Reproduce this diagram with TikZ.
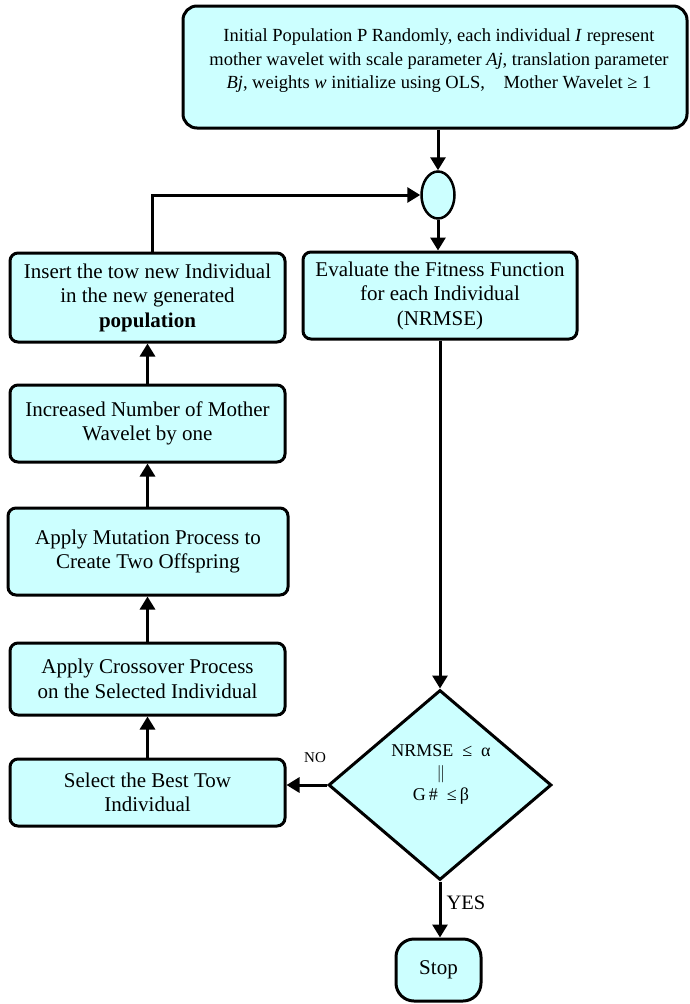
\documentclass[tikz,border=0pt]{standalone}
\usepackage{fontspec}
\setmainfont{Liberation Serif}
\usetikzlibrary{shapes.geometric,arrows.meta}
\definecolor{boxfill}{RGB}{204,255,255}
\begin{document}
\begin{tikzpicture}[x=1pt,y=-1pt,
  box/.style={draw, line width=3pt, fill=boxfill, rounded corners=8pt, align=center, inner sep=0pt, font=\fontsize{21}{24.5}\selectfont},
  conn/.style={line width=3pt, -{Triangle[length=13pt,width=15pt]}},
  lbl/.style={inner sep=0pt, font=\fontsize{20.5}{24}\selectfont}]
\useasboundingbox (0,0) rectangle (689,1004);

% top box
\node[box, minimum width=504pt, minimum height=122pt, rounded corners=14pt] (init) at (435,67) {};
\node[inner sep=0pt, align=center, font=\fontsize{18.5}{23.5}\selectfont] (inittext) at (439,61)
  {Initial Population P Randomly, each individual \textit{I} represent\\
   mother wavelet with scale parameter \textit{Aj}, translation parameter\\
   \textit{Bj}, weights \textit{w} initialize using OLS,\quad Mother Wavelet ≥ 1};

% junction
\node[draw, ellipse, line width=2.5pt, fill=boxfill, minimum width=33pt, minimum height=47pt, inner sep=0pt] (junc) at (438,195) {};

% boxes
\node[box, minimum width=275pt, minimum height=89pt] (insert) at (147.5,297.5)
  {Insert the tow new Individual\\ in the new generated\\ \textbf{population}};
\node[box, minimum width=274pt, minimum height=87pt] (eval) at (440,295.5)
  {Evaluate the Fitness Function\\ for each Individual\\ (NRMSE)};
\node[box, minimum width=275pt, minimum height=77pt] (incr) at (147.5,423.5)
  {Increased Number of Mother\\ Wavelet by one};
\node[box, minimum width=280pt, minimum height=87pt] (mut) at (148,551.5)
  {Apply Mutation Process to\\ Create Two Offspring};
\node[box, minimum width=275pt, minimum height=72pt] (cross) at (147.5,679)
  {Apply Crossover Process\\ on the Selected Individual};
\node[box, minimum width=275pt, minimum height=67pt] (sel) at (147.5,792.5)
  {Select the Best Tow\\ Individual};

% decision
\node[diamond, draw, line width=3pt, fill=boxfill, minimum width=223pt, minimum height=190pt, inner sep=0pt] (dec) at (440,785) {};
\node[inner sep=0pt, align=center, font=\fontsize{18}{22}\selectfont] (dectext) at (441,774)
  {NRMSE\ \ ≤\ \ α\\ $\Vert$\\ G\,\#\ \ ≤\,β};

% stop
\node[box, rounded corners=18pt, minimum width=85pt, minimum height=62pt] (stop) at (438.5,970) {Stop};

% labels
\node[inner sep=0pt, font=\fontsize{15}{18}\selectfont] (nolbl) at (315,758) {NO};
\node[lbl] (yeslbl) at (466,903) {YES};

% connectors
\draw[conn] (init.south -| junc) -- (junc.north);
\draw[conn] (junc.south) -- (eval.north -| junc);
\draw[conn] ([xshift=4.5pt]insert.north) |- (junc.west);
\draw[conn] (eval.south) -- (dec.north);
\draw[conn] (dec.south) -- (stop.north -| dec);
\draw[conn] (dec.west) -- (dec.west -| sel.east);
\draw[conn] (sel.north) -- (cross.south);
\draw[conn] (cross.north) -- (mut.south -| cross);
\draw[conn] (mut.north -| incr) -- (incr.south);
\draw[conn] (incr.north) -- (insert.south);
\end{tikzpicture}
\end{document}
